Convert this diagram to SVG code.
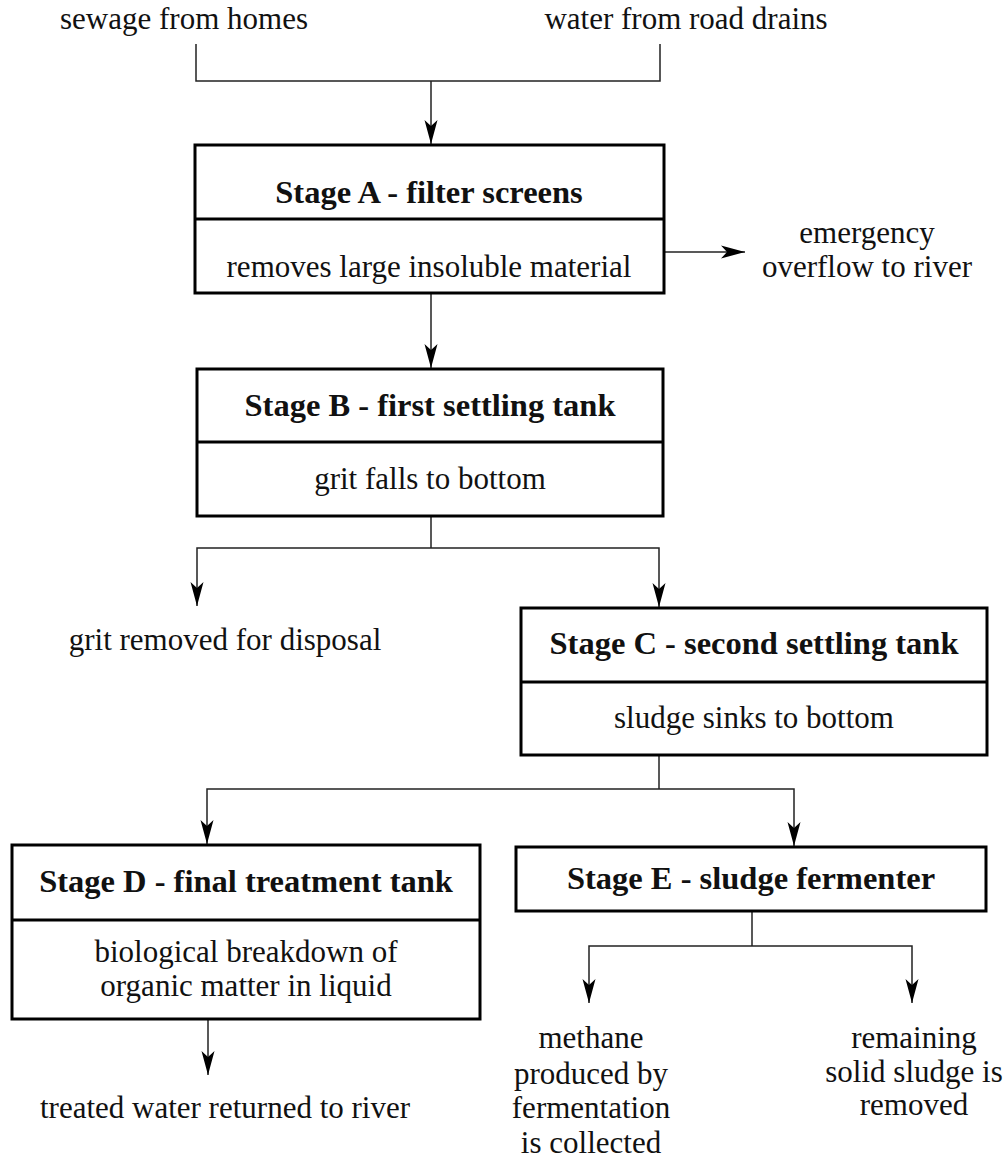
<svg xmlns="http://www.w3.org/2000/svg" width="1008" height="1158" viewBox="0 0 1008 1158">
<style>
.box{fill:#fff;stroke:#000;stroke-width:3}
.div{stroke:#000;stroke-width:3}
.con{fill:none;stroke:#222;stroke-width:1.5}
.arr{fill:none;stroke:#222;stroke-width:1.5;marker-end:url(#ah)}
text{font-family:"Liberation Serif","Times New Roman",serif;fill:#111;text-anchor:middle;font-size:31px}
.h{font-weight:bold;font-size:32.5px}
</style>
<defs>
<marker id="ah" markerUnits="userSpaceOnUse" markerWidth="30" markerHeight="16" viewBox="-25 -8 26 16" refX="0" refY="0" orient="auto">
<path d="M0,0 L-24,-6.5 L-18,0 L-24,6.5 Z" fill="#000"/>
</marker>
</defs>
<rect width="1008" height="1158" fill="#fff"/>
<g id="connectors">
<path class="con" d="M196,44 V81 H660 V44"/>
<path class="arr" d="M431,81 V144"/>
<path class="arr" d="M431,293 V368"/>
<path class="arr" d="M664,252 H745"/>
<path class="con" d="M431,516 V548"/>
<path class="arr" d="M431,548 H197 V606"/>
<path class="arr" d="M431,548 H659 V607"/>
<path class="con" d="M659,755 V789"/>
<path class="arr" d="M659,789 H207 V844"/>
<path class="arr" d="M659,789 H794 V846"/>
<path class="con" d="M752,911 V946"/>
<path class="arr" d="M752,946 H589 V1003"/>
<path class="arr" d="M752,946 H912 V1003"/>
<path class="arr" d="M208,1019 V1075"/>
</g>
<g id="sewage"><text x="184" y="29">sewage from homes</text></g>
<g id="roadwater"><text x="686" y="29">water from road drains</text></g>
<g id="stageA">
<rect class="box" x="195" y="145" width="469" height="148"/>
<line class="div" x1="195" y1="219" x2="664" y2="219"/>
<text class="h" x="429" y="203">Stage A - filter screens</text>
<text x="429" y="277">removes large insoluble material</text>
</g>
<g id="overflow">
<text x="867" y="243">emergency</text>
<text x="867" y="277">overflow to river</text>
</g>
<g id="stageB">
<rect class="box" x="197" y="369" width="466" height="147"/>
<line class="div" x1="197" y1="442" x2="663" y2="442"/>
<text class="h" x="430" y="416">Stage B - first settling tank</text>
<text x="430" y="489">grit falls to bottom</text>
</g>
<g id="grit"><text x="225" y="650">grit removed for disposal</text></g>
<g id="stageC">
<rect class="box" x="521" y="608" width="466" height="147"/>
<line class="div" x1="521" y1="682" x2="987" y2="682"/>
<text class="h" x="754" y="654">Stage C - second settling tank</text>
<text x="754" y="728">sludge sinks to bottom</text>
</g>
<g id="stageD">
<rect class="box" x="12" y="845" width="468" height="174"/>
<line class="div" x1="12" y1="920" x2="480" y2="920"/>
<text class="h" x="246" y="892">Stage D - final treatment tank</text>
<text x="246" y="962">biological breakdown of</text>
<text x="246" y="996">organic matter in liquid</text>
</g>
<g id="stageE">
<rect class="box" x="516" y="847" width="470" height="64"/>
<text class="h" x="751" y="889">Stage E - sludge fermenter</text>
</g>
<g id="treated"><text x="225" y="1118">treated water returned to river</text></g>
<g id="methane">
<text x="591" y="1048">methane</text>
<text x="591" y="1084">produced by</text>
<text x="591" y="1118">fermentation</text>
<text x="591" y="1153">is collected</text>
</g>
<g id="solid">
<text x="914" y="1048">remaining</text>
<text x="914" y="1082">solid sludge is</text>
<text x="914" y="1115">removed</text>
</g>
</svg>
